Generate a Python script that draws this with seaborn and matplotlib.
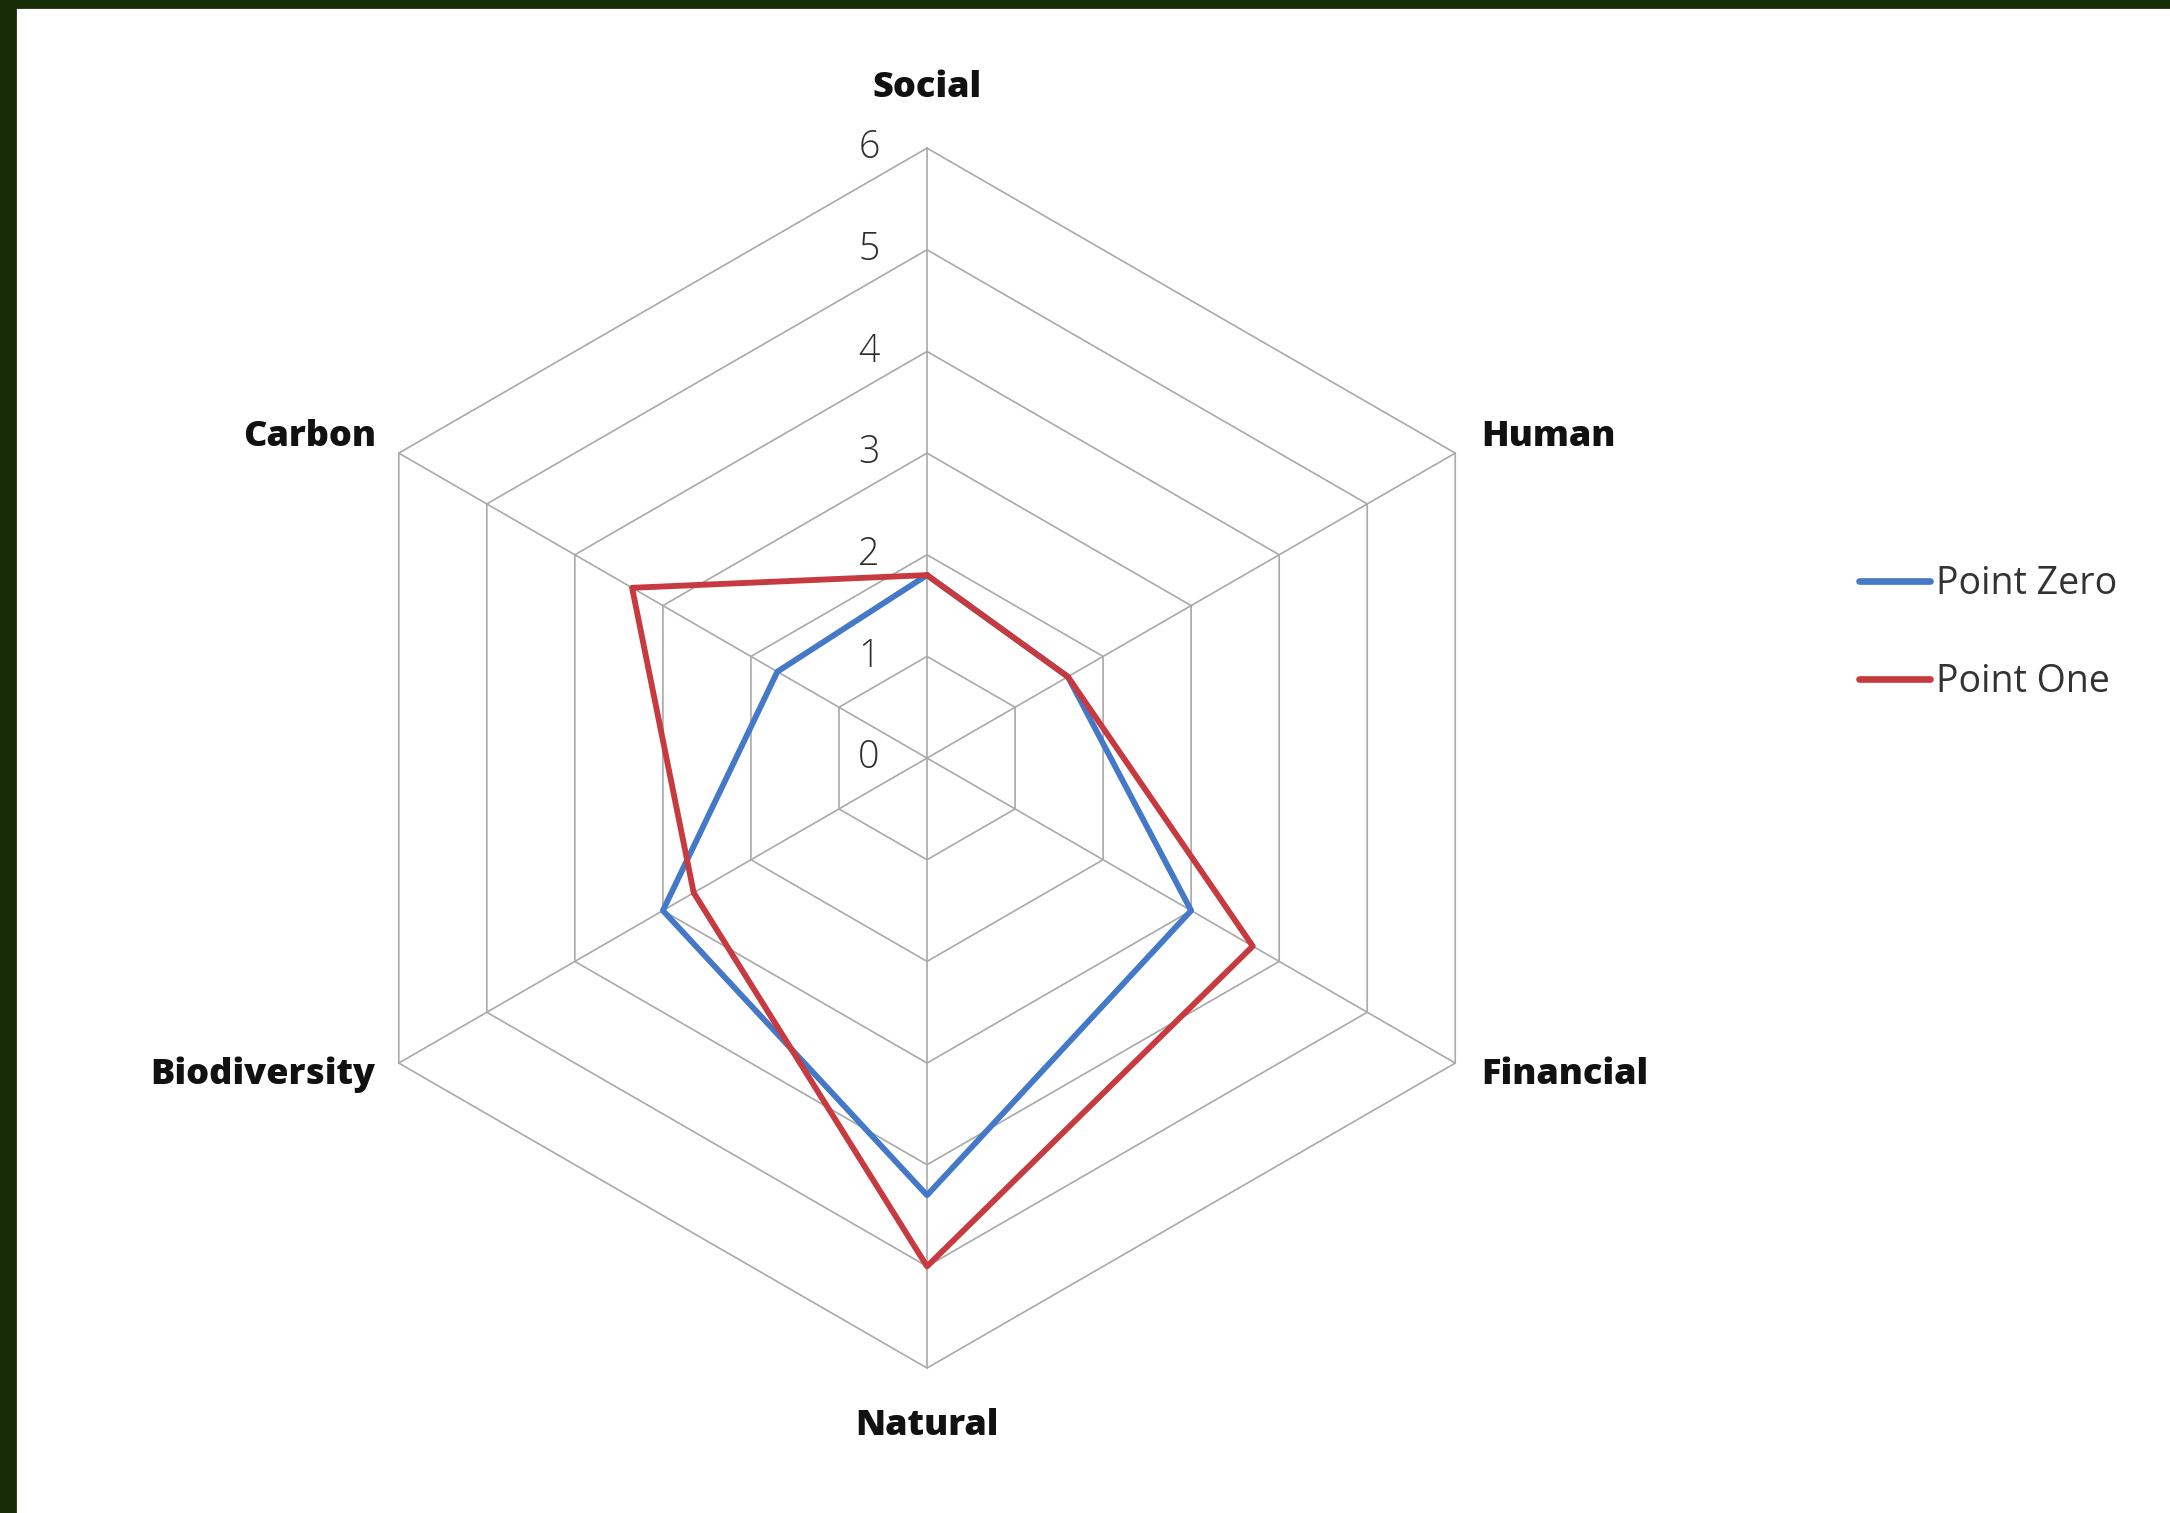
import numpy as np
import pandas as pd
import seaborn as sns
import matplotlib.pyplot as plt
from matplotlib.patches import Rectangle

categories = ["Social", "Human", "Financial", "Natural", "Biodiversity", "Carbon"]
point_zero = [1.8, 1.6, 3.0, 4.3, 3.0, 1.7]
point_one = [1.8, 1.6, 3.7, 5.0, 2.65, 3.35]
ring_ticks = [0, 1, 2, 3, 4, 5, 6]

blue = "#4479c8"
red = "#c63a40"
grid_col = "#a9a9a9"

sns.set_theme(style="white")
plt.rcParams["font.family"] = ["Open Sans", "DejaVu Sans"]

n = len(categories)
theta = np.linspace(0, 2 * np.pi, n, endpoint=False)
theta_closed = np.append(theta, 2 * np.pi)

df = pd.DataFrame({
    "theta": np.concatenate([theta_closed, theta_closed]),
    "value": point_zero + point_zero[:1] + point_one + point_one[:1],
    "series": ["Point Zero"] * (n + 1) + ["Point One"] * (n + 1),
})

fig = plt.figure(figsize=(10.85, 7.565), dpi=200)
fig.patch.set_facecolor("white")
ax = fig.add_axes([0.1461, 0.0958, 0.5622, 0.8063], projection="polar")
ax.set_theta_offset(np.pi / 2)
ax.set_theta_direction(-1)
ax.set_ylim(0, 6)
ax.grid(False)
ax.spines["polar"].set_visible(False)
ax.set_xticks([])
ax.set_yticks([])
ax.patch.set_alpha(0)

# hexagonal grid
for r in ring_ticks[1:]:
    ax.plot(theta_closed, [r] * (n + 1), color=grid_col, lw=0.6, clip_on=False, zorder=1)
for t in theta:
    ax.plot([t, t], [0, 6], color=grid_col, lw=0.6, clip_on=False, zorder=1)

sns.lineplot(data=df, x="theta", y="value", hue="series", sort=False,
             palette=[blue, red], lw=2.1, estimator=None, ax=ax, zorder=3)
for line in ax.lines[-2:]:
    line.set_clip_on(False)

# radial tick labels along the Social spoke
for r in ring_ticks:
    ax.annotate(str(r), xy=(0, r), xytext=(-20.9, 0), textcoords="offset points",
                ha="center", va="center", fontsize=13.5, fontweight="light", color="#2e2e2e")

# category labels
offsets = {
    "Social": ((0, 21.5), "center", "center"),
    "Human": ((9.4, 5.8), "left", "center"),
    "Financial": ((9.4, -4.3), "left", "center"),
    "Natural": ((0, -21.0), "center", "center"),
    "Biodiversity": ((-8.3, -4.3), "right", "center"),
    "Carbon": ((-8.3, 5.8), "right", "center"),
}
for t, cat in zip(theta, categories):
    off, ha, va = offsets[cat]
    ax.annotate(cat, xy=(t, 6), xytext=off, textcoords="offset points",
                ha=ha, va=va, fontsize=13, fontweight="heavy", color="#111111")

ax.set_xlabel("")
ax.set_ylabel("")
leg = ax.legend(loc="upper left", bbox_to_anchor=(0.841, 0.649), bbox_transform=fig.transFigure,
                frameon=False, fontsize=13.5, handlelength=1.9, handletextpad=0.15,
                labelspacing=1.6, title=None)
for h in leg.get_lines():
    h.set_linewidth(2.4)
for txt in leg.get_texts():
    txt.set_color("#333333")

# dark frame along the top and left edges
fig.add_artist(Rectangle((0, 1 - 7 / 1513), 1, 7 / 1513, transform=fig.transFigure,
                         color="#182c07", zorder=10))
fig.add_artist(Rectangle((0, 0), 15 / 2170, 1, transform=fig.transFigure,
                         color="#182c07", zorder=10))

fig.savefig("out.png", dpi=200)
